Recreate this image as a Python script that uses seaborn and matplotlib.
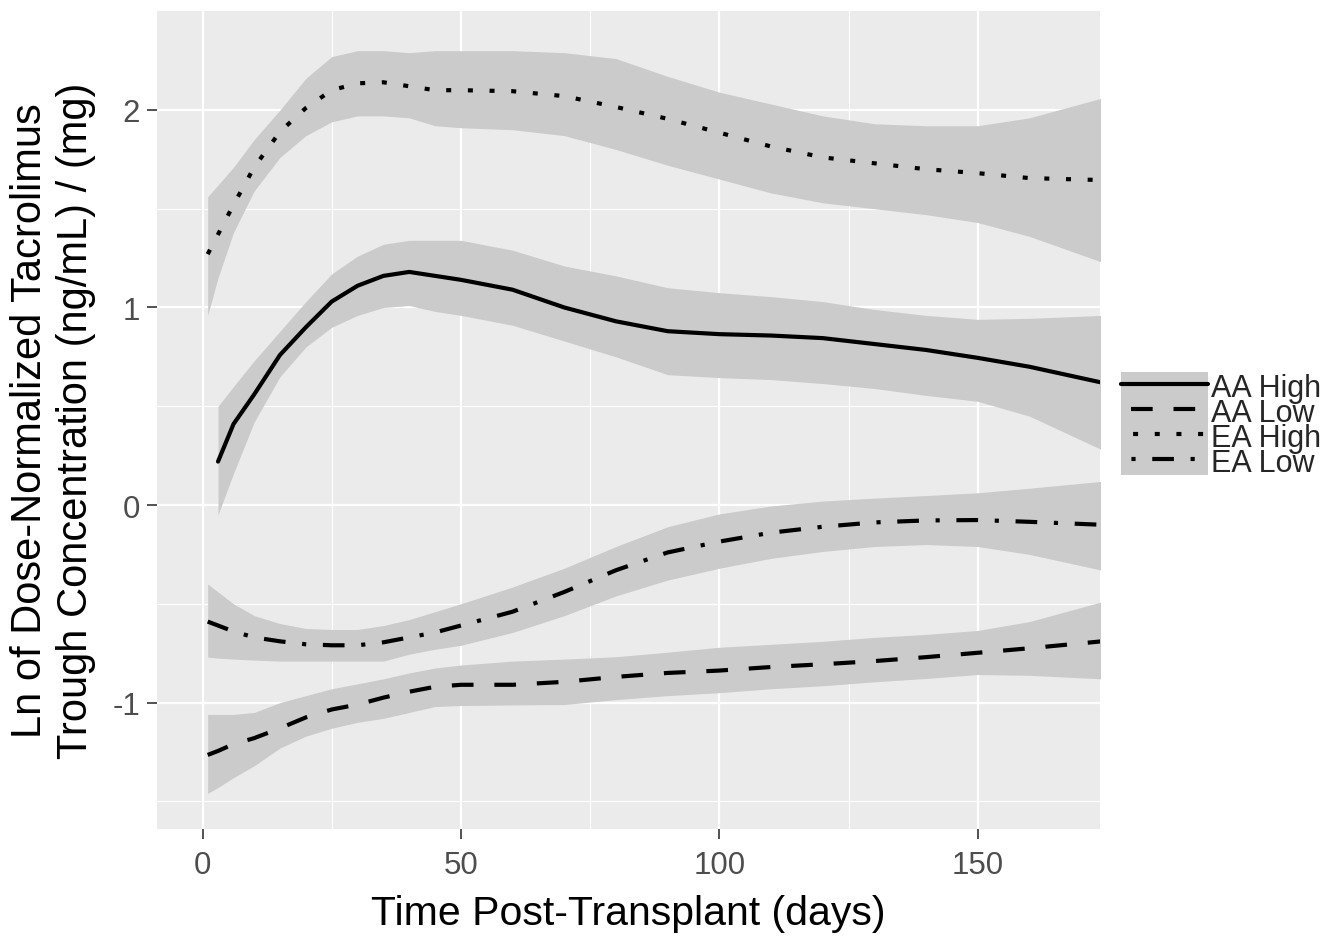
import numpy as np
import pandas as pd
import matplotlib
matplotlib.use("Agg")
import matplotlib.pyplot as plt
from matplotlib.lines import Line2D
from matplotlib.patches import Patch
import seaborn as sns

# time grid (days) and the fitted curves + confidence bands
days = [1, 3, 6, 10, 15, 20, 25, 30, 35, 40, 45, 50, 60, 70, 80, 90, 100, 110, 120, 130, 140, 150, 160, 174]

aa_high = [np.nan, 0.22, 0.41, 0.56, 0.76, 0.90, 1.03, 1.11, 1.16, 1.18, 1.16, 1.14, 1.09, 1.00, 0.93, 0.88,
           0.865, 0.858, 0.845, 0.815, 0.785, 0.745, 0.70, 0.62]
aa_high_hi = [np.nan, 0.50, 0.60, 0.73, 0.88, 1.03, 1.17, 1.26, 1.32, 1.34, 1.34, 1.34, 1.29, 1.21, 1.16, 1.10,
              1.075, 1.055, 1.03, 0.99, 0.96, 0.94, 0.945, 0.96]
aa_high_lo = [np.nan, -0.05, 0.16, 0.42, 0.65, 0.80, 0.90, 0.96, 1.00, 1.01, 0.98, 0.96, 0.91, 0.83, 0.75, 0.66,
              0.645, 0.635, 0.615, 0.59, 0.555, 0.525, 0.45, 0.28]

aa_low = [-1.265, -1.245, -1.21, -1.18, -1.13, -1.075, -1.035, -1.01, -0.975, -0.945, -0.92, -0.91, -0.91, -0.895,
          -0.87, -0.85, -0.838, -0.82, -0.806, -0.79, -0.77, -0.748, -0.725, -0.69]
aa_low_hi = [-1.06, -1.06, -1.06, -1.05, -1.00, -0.965, -0.93, -0.905, -0.88, -0.85, -0.825, -0.81, -0.79, -0.78,
             -0.768, -0.745, -0.72, -0.705, -0.69, -0.67, -0.655, -0.635, -0.59, -0.49]
aa_low_lo = [-1.46, -1.43, -1.38, -1.32, -1.23, -1.17, -1.13, -1.10, -1.08, -1.05, -1.02, -1.015, -1.012, -1.01,
             -0.985, -0.965, -0.95, -0.93, -0.915, -0.895, -0.878, -0.858, -0.862, -0.88]

ea_high = [1.27, 1.37, 1.52, 1.71, 1.89, 2.01, 2.10, 2.135, 2.14, 2.12, 2.10, 2.10, 2.095, 2.07, 2.015, 1.955,
           1.885, 1.815, 1.76, 1.73, 1.70, 1.68, 1.655, 1.645]
ea_high_hi = [1.56, 1.62, 1.71, 1.85, 2.00, 2.16, 2.27, 2.30, 2.30, 2.29, 2.30, 2.30, 2.30, 2.29, 2.26, 2.17,
              2.09, 2.03, 1.97, 1.93, 1.92, 1.92, 1.96, 2.06]
ea_high_lo = [0.96, 1.15, 1.38, 1.59, 1.76, 1.87, 1.94, 1.97, 1.97, 1.96, 1.92, 1.91, 1.90, 1.87, 1.80, 1.72,
              1.65, 1.58, 1.53, 1.50, 1.47, 1.43, 1.36, 1.23]

ea_low = [-0.59, -0.61, -0.64, -0.67, -0.69, -0.705, -0.71, -0.71, -0.695, -0.67, -0.645, -0.61, -0.54, -0.44,
          -0.33, -0.24, -0.185, -0.14, -0.11, -0.088, -0.078, -0.076, -0.085, -0.10]
ea_low_hi = [-0.40, -0.44, -0.50, -0.56, -0.60, -0.625, -0.63, -0.63, -0.61, -0.58, -0.54, -0.50, -0.415, -0.32,
             -0.21, -0.11, -0.045, -0.005, 0.02, 0.035, 0.048, 0.062, 0.085, 0.12]
ea_low_lo = [-0.77, -0.775, -0.78, -0.785, -0.79, -0.79, -0.79, -0.79, -0.79, -0.755, -0.73, -0.71, -0.645, -0.56,
             -0.46, -0.38, -0.32, -0.27, -0.235, -0.21, -0.20, -0.21, -0.25, -0.33]

groups = ["AA High", "AA Low", "EA High", "EA Low"]
fits = {"AA High": aa_high, "AA Low": aa_low, "EA High": ea_high, "EA Low": ea_low}
bands = {"AA High": (aa_high_lo, aa_high_hi), "AA Low": (aa_low_lo, aa_low_hi),
         "EA High": (ea_high_lo, ea_high_hi), "EA Low": (ea_low_lo, ea_low_hi)}

dash_map = {"AA High": "", "AA Low": (5.2, 5.0), "EA High": (1.2, 4.0), "EA Low": (5.2, 4.0, 1.0, 4.0)}
# phase of the pattern inside the legend keys (in line widths)
key_offset = {"AA Low": 7.8, "EA High": 2.3, "EA Low": 6.7}

rows = []
for g in groups:
    for d, v in zip(days, fits[g]):
        rows.append({"day": d, "fit": v, "group": g})
df = pd.DataFrame(rows).dropna()

sns.set_theme(style="darkgrid")
plt.rcParams["font.family"] = ["Liberation Sans", "DejaVu Sans"]
plt.rcParams["axes.unicode_minus"] = False

ribbon = "#CBCBCB"
fig = plt.figure(figsize=(13.33, 9.37), dpi=100)
ax = fig.add_axes([0.1178, 0.1142, 0.7072, 0.8728])
ax.set_facecolor("#EBEBEB")

for g in groups:
    lo, hi = bands[g]
    ax.fill_between(days, lo, hi, color=ribbon, lw=0, zorder=1)

sns.lineplot(data=df, x="day", y="fit", style="group", style_order=groups, dashes=dash_map,
             color="black", linewidth=3, errorbar=None, legend=False, ax=ax, zorder=3)

ax.set_xlim(-8.8, 173.6)
ax.set_ylim(-1.64, 2.50)
ax.set_xticks([0, 50, 100, 150])
ax.set_xticks([25, 75, 125], minor=True)
ax.set_yticks([-1, 0, 1, 2])
ax.set_yticks([-1.5, -0.5, 0.5, 1.5], minor=True)
ax.set_yticklabels(["-1", "0", "1", "2"])
ax.grid(which="major", color="white", lw=1.6)
ax.grid(which="minor", color="white", lw=0.8)
ax.set_axisbelow(True)
for s in ax.spines.values():
    s.set_visible(False)

ax.tick_params(which="major", length=7, width=1.2, color="#333333", labelsize=22.5,
               labelcolor="#4D4D4D", bottom=True, left=True)
ax.tick_params(axis="x", which="major", pad=8)
ax.tick_params(axis="y", which="major", pad=5)
ax.tick_params(which="minor", length=0)

ax.set_xlabel("Time Post-Transplant (days)", fontsize=29.5, color="black", labelpad=10)
ax.set_ylabel("Ln of Dose-Normalized Tacrolimus\nTrough Concentration (ng/mL) / (mg)",
              fontsize=30, color="black", labelpad=12, linespacing=1.2)

handles = []
for g in groups:
    if dash_map[g]:
        ln = Line2D([], [], color="black", lw=3, linestyle=(key_offset[g], dash_map[g]))
    else:
        ln = Line2D([], [], color="black", lw=3)
    handles.append((Patch(facecolor=ribbon, edgecolor="none"), ln))

fig.legend(handles, groups, loc="center left", bbox_to_anchor=(0.841, 0.545),
           frameon=False, fontsize=22, handlelength=2.85, handleheight=1.0,
           labelspacing=-0.2, handletextpad=0.1, borderpad=0, borderaxespad=0)

fig.savefig("out.png", dpi=100)
